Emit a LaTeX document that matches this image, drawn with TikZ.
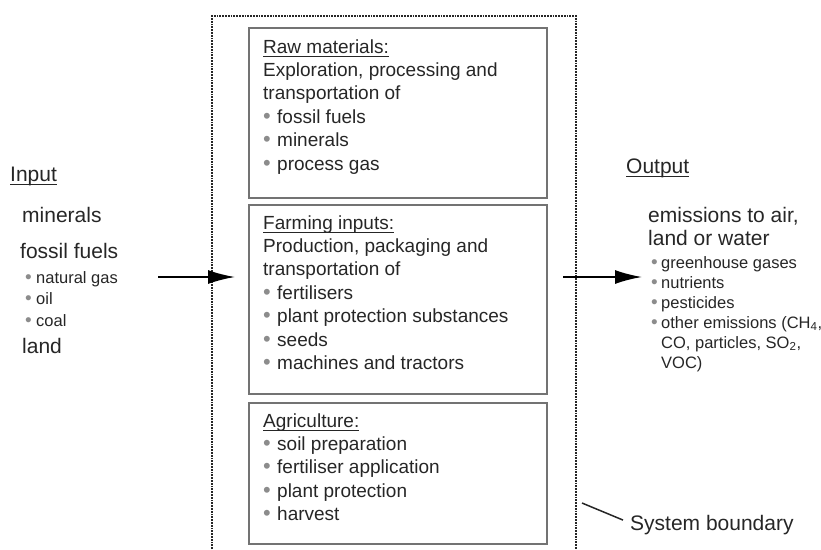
\documentclass[tikz,border=0pt]{standalone}
\usepackage{fontspec}
\setmainfont{Liberation Sans}
\usepackage{graphicx}
\usetikzlibrary{arrows.meta}

\newcommand{\hd}[1]{\setbox0\hbox{#1}\rlap{\rule[-4pt]{\wd0}{1pt}}\box0}
\newcommand{\bul}[1][14pt]{\makebox[#1][l]{\textcolor{black!45}{\scalebox{1.15}{\textbullet}}}}
\newcommand{\rows}[1]{\begin{tabular}[t]{@{}l@{}}#1\end{tabular}}

\begin{document}
\begin{tikzpicture}[x=1pt, y=-1pt, >={Latex[length=27pt,width=14pt]},
  every node/.style={inner sep=0pt, text=black!85},
  stage/.style={draw=black!55, line width=1.5pt, anchor=north west},
  boxtext/.style={anchor=base west, font=\fontsize{19}{23.4}\selectfont},
  sidebig/.style={anchor=base west, font=\fontsize{21}{23}\selectfont},
  sidesmall/.style={anchor=base west, font=\fontsize{16.5}{20}\selectfont}]
  \useasboundingbox (0,0) rectangle (821,549);

  % system boundary, open at the bottom
  \draw[black!85, line width=2pt, dash pattern=on 1.8pt off 1pt] (212,549) -- (212,16) -- (576,16) -- (576,549);

  % the three stages
  \node[stage, minimum width=298pt, minimum height=170pt] (raw) at (248,27) {};
  \node[stage, minimum width=298pt, minimum height=189pt] (farm) at (248,204) {};
  \node[stage, minimum width=298pt, minimum height=141pt] (agri) at (248,402) {};

  \node[boxtext] (rawtext) at (263,53) {\rows{\hd{Raw materials:}\\ Exploration, processing and\\ transportation of\\ \bul fossil fuels\\ \bul minerals\\ \bul process gas}};
  \node[boxtext] (farmtext) at (263,229) {\rows{\hd{Farming inputs:}\\ Production, packaging and\\ transportation of\\ \bul fertilisers\\ \bul plant protection substances\\ \bul seeds\\ \bul machines and tractors}};
  \node[boxtext] (agritext) at (263,427) {\rows{\hd{Agriculture:}\\ \bul soil preparation\\ \bul fertiliser application\\ \bul plant protection\\ \bul harvest}};

  % input side
  \node[sidebig] (inhead) at (10,181) {\hd{Input}};
  \node[sidebig] (inmin) at (22,222) {minerals};
  \node[sidebig] (infossil) at (20,258) {fossil fuels};
  \node[sidesmall, font=\fontsize{16.5}{21.5}\selectfont] (infuels) at (25,283) {\rows{\bul[11pt]natural gas\\ \bul[11pt]oil\\ \bul[11pt]coal}};
  \node[sidebig] (inland) at (22,353) {land};

  % output side
  \node[sidebig] (outhead) at (626,173) {\hd{Output}};
  \node[sidebig] (outmain) at (648,222) {\rows{emissions to air,\\ land or water}};
  \node[sidesmall] (outlist) at (651,268) {\rows{\bul[10pt]greenhouse gases\\ \bul[10pt]nutrients\\ \bul[10pt]pesticides\\ \bul[10pt]other emissions (CH\textsubscript{4},\\ \hspace*{10pt}CO, particles, SO\textsubscript{2},\\ \hspace*{10pt}VOC)}};

  \node[sidebig] (bound) at (630,530) {System boundary};

  % flows
  \coordinate (inarrow) at (158,277);
  \coordinate (intip) at (235,277);
  \coordinate (outarrow) at (563,277);
  \coordinate (outtip) at (642,277);
  \coordinate (bndtick) at (582,503);
  \draw[->, line width=2pt] (inarrow) -- (intip);
  \draw[->, line width=2pt] (outarrow) -- (outtip);
  \draw[line width=1.5pt, black!85] (bndtick) -- ([xshift=-7pt,yshift=4.5pt]bound.west);
\end{tikzpicture}
\end{document}
